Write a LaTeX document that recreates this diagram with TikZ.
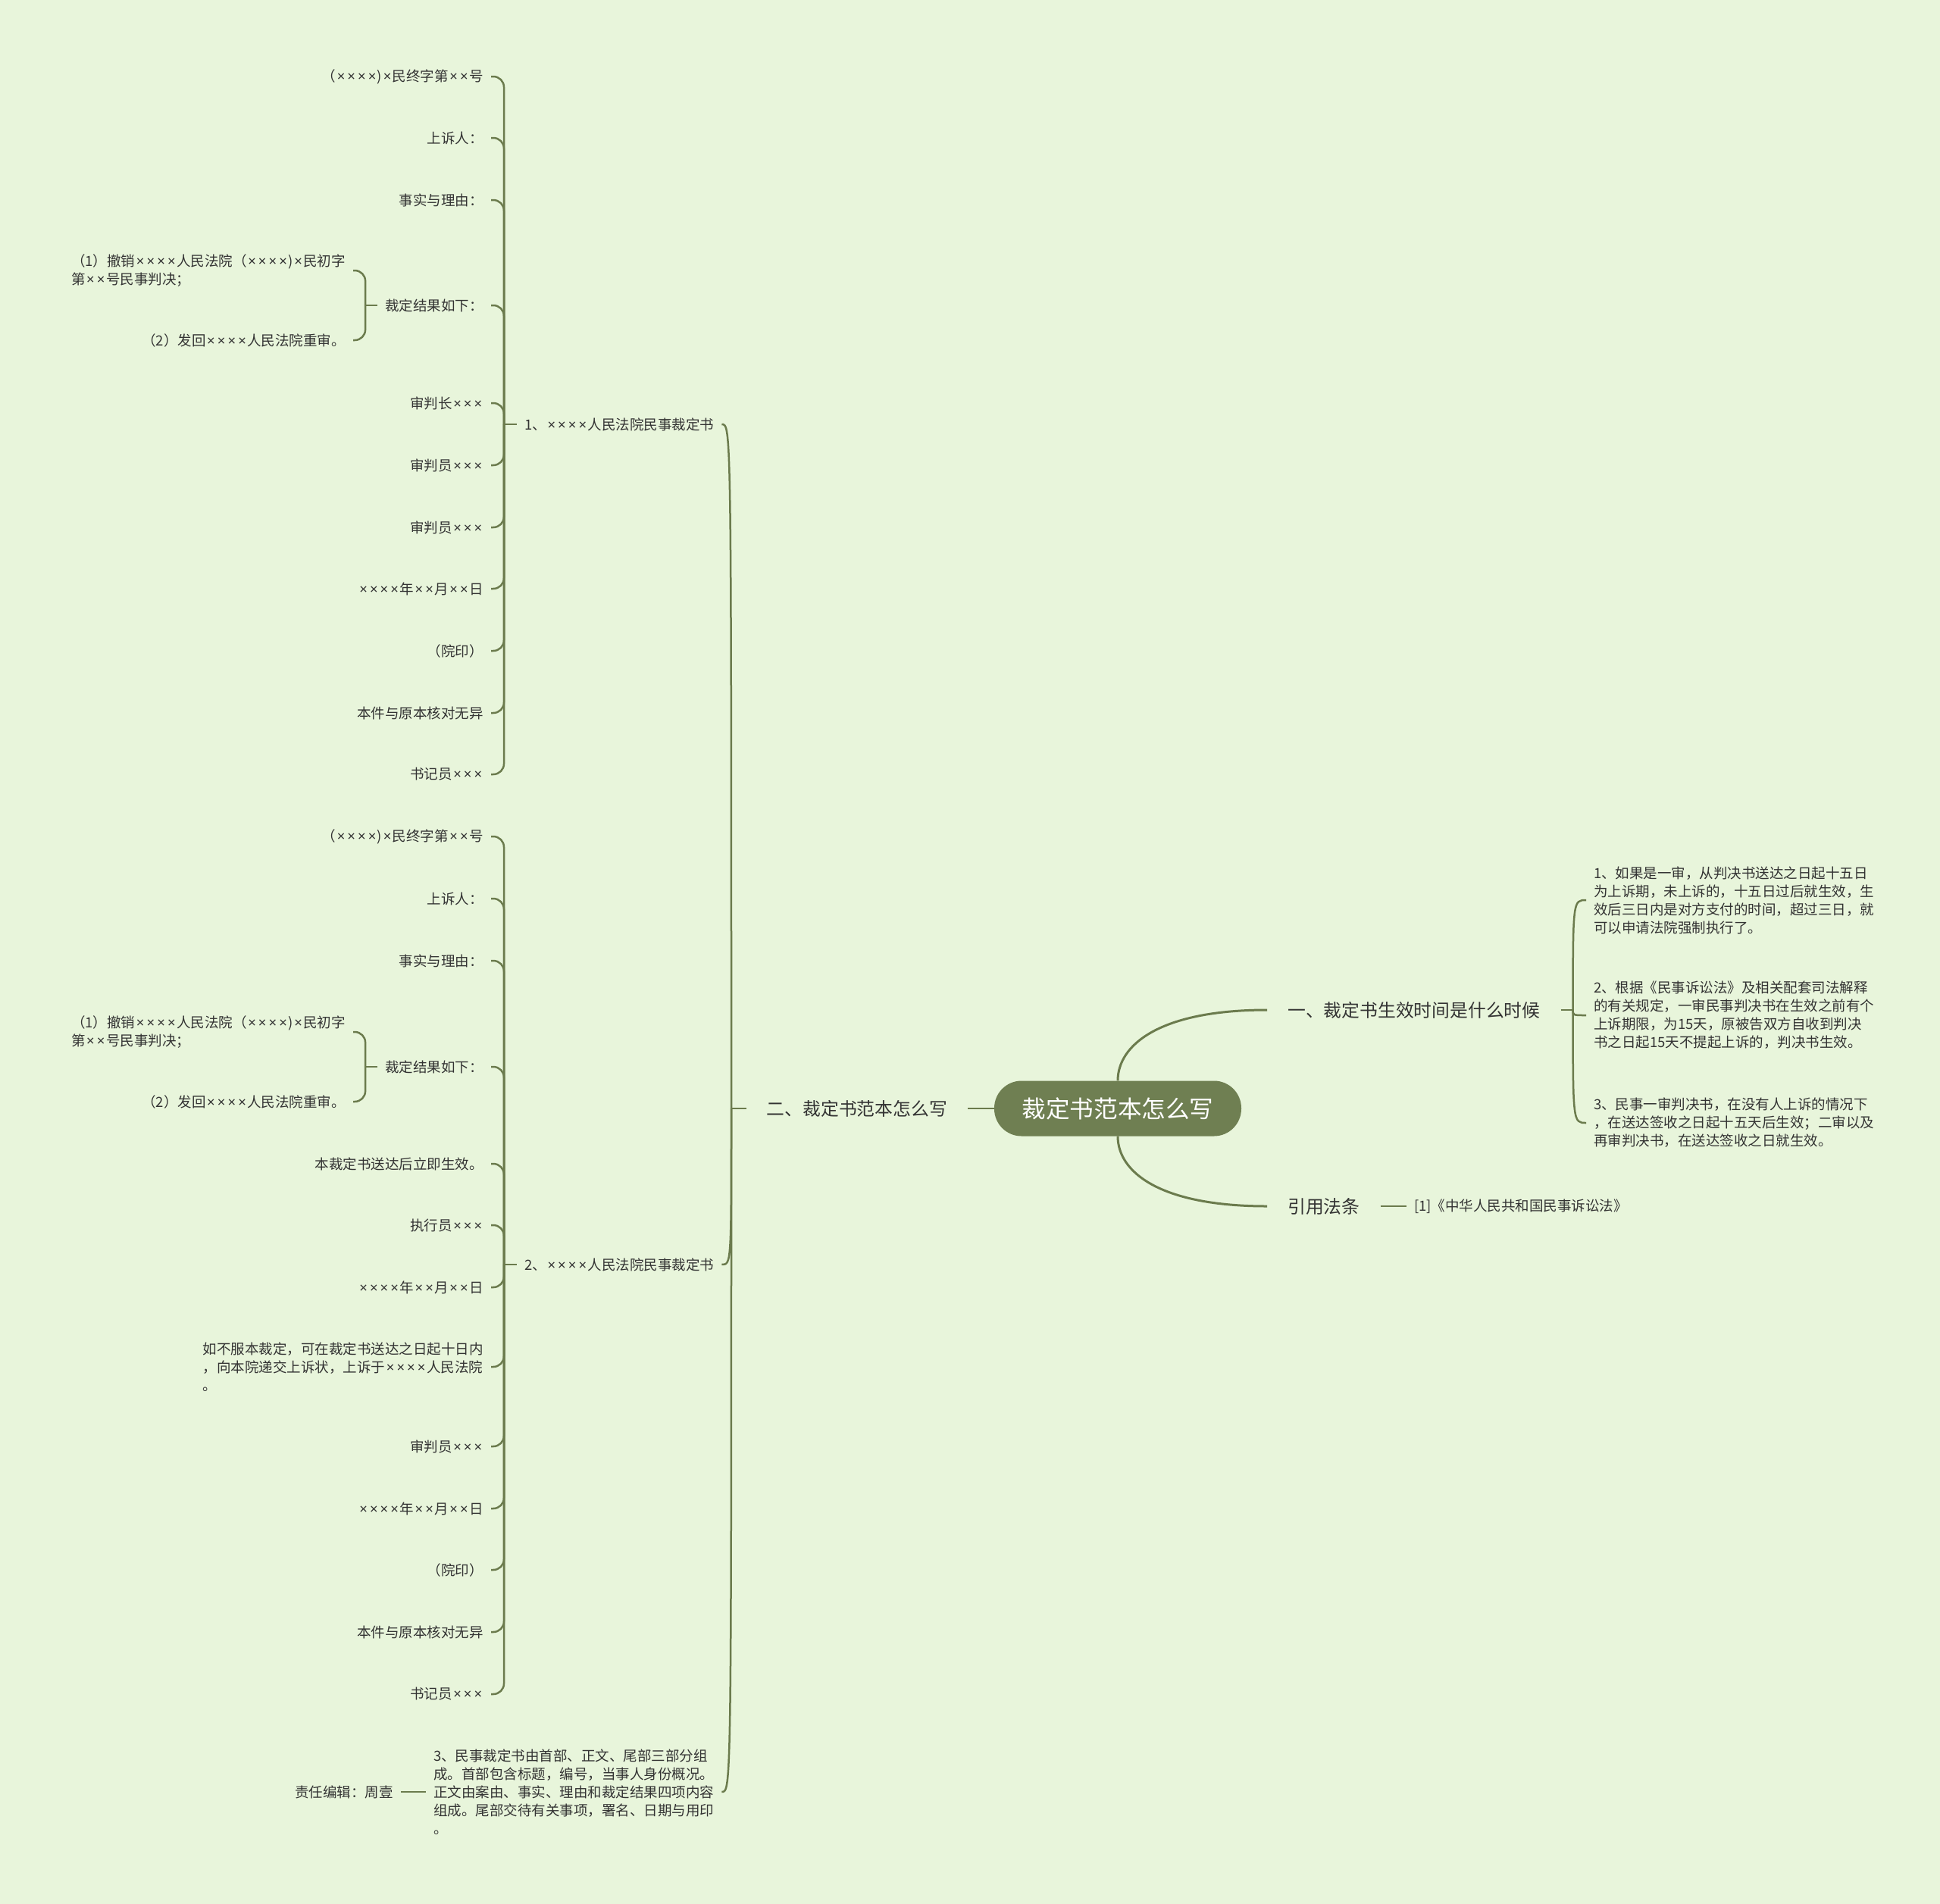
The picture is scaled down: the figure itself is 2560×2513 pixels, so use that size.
\documentclass[tikz,border=0pt]{standalone}
\usepackage{fontspec}
\setmainfont{Noto Sans CJK SC}
\newfontfamily\latinfont{Noto Sans}
\newcommand\xx{\makebox[0.74em]{\latinfont ×}}
\usetikzlibrary{calc}
\definecolor{bg}{HTML}{E8F5DB}
\definecolor{branch}{HTML}{6B7B4D}
\definecolor{rootfill}{HTML}{6F7F52}
\definecolor{ink}{HTML}{333333}

\begin{document}
\begin{tikzpicture}[x=1pt,y=-1pt,
  line/.style={draw=branch,line width=2.5pt},
  hook/.style={line,rounded corners=14pt},
  leaf/.style={text=ink,font=\fontsize{18.5}{24}\selectfont,inner xsep=10pt,inner ysep=3pt,align=left},
  topic/.style={text=ink,font=\fontsize{23.8}{30}\selectfont,inner xsep=27pt},
  rootbox/.style={fill=rootfill,text=white,font=\fontsize{31.6}{38}\selectfont,minimum width=326pt,minimum height=73pt,rounded corners=36pt}]
\fill[bg](0,0) rectangle (2560,2513);
\useasboundingbox(0,0) rectangle (2560,2513);

\node[rootbox](root) at (1475,1463){裁定书范本怎么写};
\node[topic,anchor=east](t2) at (1277,1463){二、裁定书范本怎么写};
\node[topic,anchor=west](t1) at (1672,1333){一、裁定书生效时间是什么时候};
\node[topic,anchor=west](t3) at (1672,1592){引用法条};
\draw[line,line width=2.2pt](root.west)--(t2.east);
\draw[line,line width=3pt](root.north) .. controls +(0,-47) and +(-142,0) .. (t1.west);
\draw[line,line width=3pt](root.south) .. controls +(0,47) and +(-142,0) .. (t3.west);

\coordinate(j1) at ($(t1.east)+(16,0)$);
\draw[line](t1.east)--(j1);
\node[leaf,anchor=west](r1) at (2093,1188){1、如果是一审，从判决书送达之日起十五日\\为上诉期，未上诉的，十五日过后就生效，生\\效后三日内是对方支付的时间，超过三日，就\\可以申请法院强制执行了。};
\node[leaf,anchor=west](r2) at (2093,1340){2、根据《民事诉讼法》及相关配套司法解释\\的有关规定，一审民事判决书在生效之前有个\\上诉期限，为15天，原被告双方自收到判决\\书之日起15天不提起上诉的，判决书生效。};
\node[leaf,anchor=west](r3) at (2093,1482){3、民事一审判决书，在没有人上诉的情况下\\，在送达签收之日起十五天后生效；二审以及\\再审判决书，在送达签收之日就生效。};
\foreach \r in {r1,r2,r3}
  \draw[line](j1) .. controls (j1 |- \r.west) .. (\r.west);

\node[leaf,anchor=west](c1) at (1856,1592){[1]《中华人民共和国民事诉讼法》};
\draw[line](t3.east)--(c1.west);

\coordinate(j0) at (965,1463);
\draw[line](j0)--(t2.west);
\node[leaf,anchor=west](m1) at (682,560){1、\xx\xx\xx\xx{}人民法院民事裁定书};
\node[leaf,anchor=west](m2) at (682,1669){2、\xx\xx\xx\xx{}人民法院民事裁定书};
\node[leaf,anchor=west](m3) at (562,2365){3、民事裁定书由首部、正文、尾部三部分组\\成。首部包含标题，编号，当事人身份概况。\\正文由案由、事实、理由和裁定结果四项内容\\组成。尾部交待有关事项，署名、日期与用印\\。};
\foreach \m in {m1,m2,m3}
  \draw[line](j0) .. controls (j0 |- \m.east) .. (\m.east);
\node[leaf,anchor=east](ed) at (529,2365){责任编辑：周壹};
\draw[line](ed.east)--(m3.west);

\coordinate(k1) at ($(m1.west)+(-17,0)$);
\draw[line](k1)--(m1.west);
\foreach \t/\y [count=\i] in {{（\xx\xx\xx\xx)\xx{}民终字第\xx\xx{}号}/101,{上诉人：}/182,{事实与理由：}/264,
  {裁定结果如下：}/403,{审判长\xx\xx\xx}/532,{审判员\xx\xx\xx}/614,{审判员\xx\xx\xx}/696,
  {\xx\xx\xx\xx{}年\xx\xx{}月\xx\xx{}日}/777,{（院印）}/859,{本件与原本核对无异}/941,{书记员\xx\xx\xx}/1022}{
  \node[leaf,anchor=east](a\i) at (648,\y){\t};
  \draw[hook](k1) |- (a\i.east);
}
\coordinate(s1) at ($(a4.west)+(-16,0)$);
\draw[line](s1)--(a4.west);
\node[leaf,anchor=east](a41) at ($(s1)+(-16,-46)$){（1）撤销\xx\xx\xx\xx{}人民法院（\xx\xx\xx\xx)\xx{}民初字\\第\xx\xx{}号民事判决；};
\node[leaf,anchor=east](a42) at ($(s1)+(-16,46)$){（2）发回\xx\xx\xx\xx{}人民法院重审。};
\draw[hook](s1) |- (a41.east);
\draw[hook](s1) |- (a42.east);

\coordinate(k2) at ($(m2.west)+(-17,0)$);
\draw[line](k2)--(m2.west);
\foreach \t/\y [count=\i] in {{（\xx\xx\xx\xx)\xx{}民终字第\xx\xx{}号}/1104,{上诉人：}/1186,{事实与理由：}/1268,
  {裁定结果如下：}/1408,{本裁定书送达后立即生效。}/1536,{执行员\xx\xx\xx}/1617,
  {\xx\xx\xx\xx{}年\xx\xx{}月\xx\xx{}日}/1699,{如不服本裁定，可在裁定书送达之日起十日内\\，向本院递交上诉状，上诉于\xx\xx\xx\xx{}人民法院\\。}/1804,
  {审判员\xx\xx\xx}/1909,{\xx\xx\xx\xx{}年\xx\xx{}月\xx\xx{}日}/1991,{（院印）}/2072,{本件与原本核对无异}/2154,{书记员\xx\xx\xx}/2236}{
  \node[leaf,anchor=east](b\i) at (648,\y){\t};
  \draw[hook](k2) |- (b\i.east);
}
\coordinate(s2) at ($(b4.west)+(-16,0)$);
\draw[line](s2)--(b4.west);
\node[leaf,anchor=east](b41) at ($(s2)+(-16,-46)$){（1）撤销\xx\xx\xx\xx{}人民法院（\xx\xx\xx\xx)\xx{}民初字\\第\xx\xx{}号民事判决；};
\node[leaf,anchor=east](b42) at ($(s2)+(-16,46)$){（2）发回\xx\xx\xx\xx{}人民法院重审。};
\draw[hook](s2) |- (b41.east);
\draw[hook](s2) |- (b42.east);
\end{tikzpicture}
\end{document}
